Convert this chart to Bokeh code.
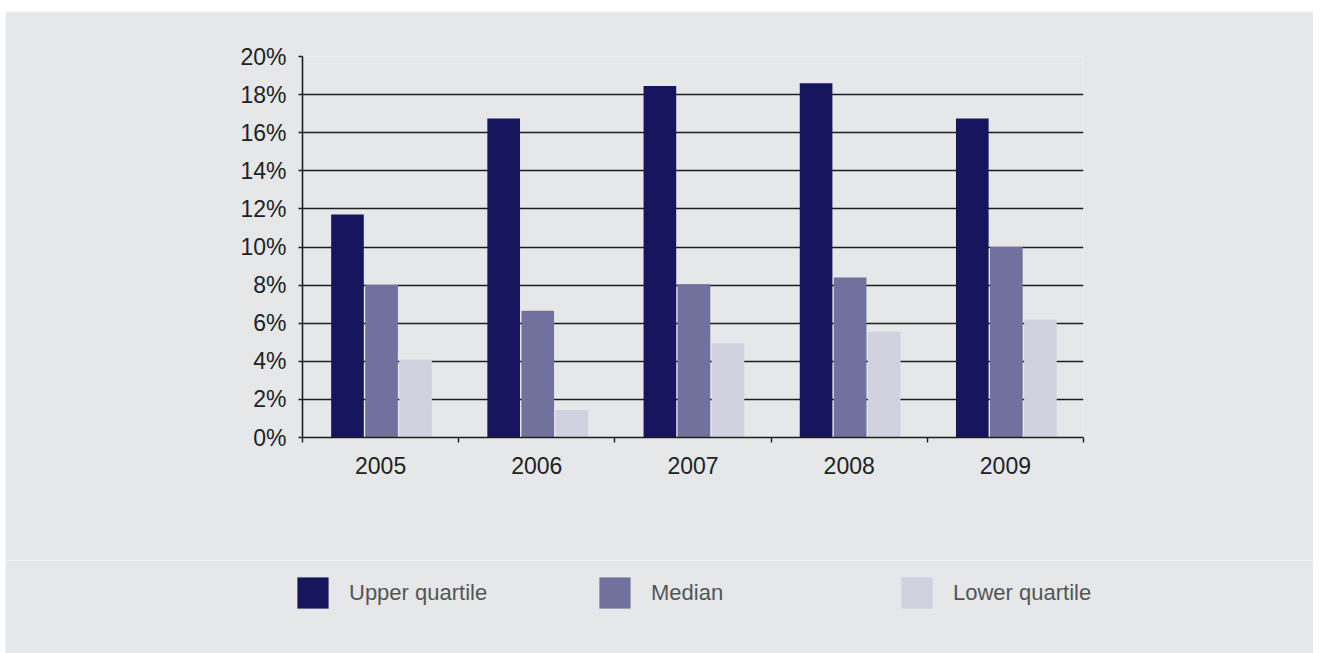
import numpy as np
from bokeh.plotting import figure
from bokeh.models import (ColumnDataSource, Range1d, LinearAxis, FixedTicker,
                          Legend, LegendItem, NumeralTickFormatter)
from bokeh.transform import dodge
from bokeh.embed import file_html
from bokeh.resources import INLINE

years = ["2005", "2006", "2007", "2008", "2009"]
upper_quartile = [11.7, 16.75, 18.45, 18.6, 16.75]
median = [8.0, 6.65, 8.05, 8.4, 10.0]
lower_quartile = [4.1, 1.45, 4.95, 5.55, 6.2]
series_names = ["Upper quartile", "Median", "Lower quartile"]
colors = ["#18155f", "#72709c", "#d2d1df"]
y_ticks = [0, 2, 4, 6, 8, 10, 12, 14, 16, 18, 20]

xc = np.arange(len(years)) + 0.5
src = ColumnDataSource(dict(x=xc, upper=upper_quartile, median=median, lower=lower_quartile))

BG = "#e6e7e9"
p = figure(width=1308, height=549, output_backend="svg", toolbar_location=None,
           x_range=Range1d(0, len(years)), y_range=Range1d(0, 20),
           x_axis_location=None, y_axis_location=None,
           min_border_left=297, min_border_right=230, min_border_top=45, min_border_bottom=123,
           background_fill_color=BG, border_fill_color=BG, outline_line_color=None,
           margin=(11, 0, 0, 5))

p.xgrid.grid_line_color = None
p.ygrid.ticker = FixedTicker(ticks=y_ticks)
p.ygrid.grid_line_color = "#1e1e1e"
p.ygrid.grid_line_width = 1.4

yaxis = LinearAxis(ticker=FixedTicker(ticks=y_ticks),
                   formatter=NumeralTickFormatter(format="0"))
yaxis.major_label_overrides = {t: f"{t}%" for t in y_ticks}
yaxis.axis_line_color = "#1e1e1e"
yaxis.axis_line_width = 1.6
yaxis.major_tick_line_color = "#1e1e1e"
yaxis.major_tick_line_width = 1.4
yaxis.major_tick_out = 4
yaxis.major_tick_in = 0
yaxis.minor_tick_line_color = None
yaxis.major_label_text_font = "Liberation Sans"
yaxis.major_label_text_font_size = "23px"
yaxis.major_label_text_color = "#222222"
yaxis.major_label_standoff = 12
p.add_layout(yaxis, "left")

xaxis = LinearAxis(ticker=FixedTicker(ticks=list(xc), minor_ticks=list(range(len(years) + 1))))
xaxis.major_label_overrides = {float(x): y for x, y in zip(xc, years)}
xaxis.axis_line_color = "#1e1e1e"
xaxis.axis_line_width = 1.6
xaxis.major_tick_line_color = None
xaxis.major_tick_out = 0
xaxis.major_tick_in = 0
xaxis.minor_tick_line_color = "#1e1e1e"
xaxis.minor_tick_line_width = 1.4
xaxis.minor_tick_out = 5
xaxis.minor_tick_in = 0
xaxis.major_label_text_font = "Liberation Sans"
xaxis.major_label_text_font_size = "23px"
xaxis.major_label_text_color = "#222222"
xaxis.major_label_standoff = 14
p.add_layout(xaxis, "below")

offsets = [-0.212, 0.006, 0.224]
fields = ["upper", "median", "lower"]
for f, off, c in zip(fields, offsets, colors):
    p.vbar(x=dodge("x", off), top=f, width=0.209, bottom=0, source=src,
           fill_color=c, line_color=None)

# legend strip below the chart (separate root, so its frame spans the full strip)
lf = figure(width=1308, height=93, output_backend="svg", toolbar_location=None,
            x_range=Range1d(100, 101), y_range=Range1d(100, 101),
            x_axis_location=None, y_axis_location=None,
            min_border_left=0, min_border_right=0, min_border_top=0, min_border_bottom=0,
            background_fill_color=BG, border_fill_color=BG, outline_line_color=None,
            margin=(0, 0, 0, 5))
lf.xgrid.visible = False
lf.ygrid.visible = False
items = []
for f, off, c, name in zip(fields, offsets, colors, series_names):
    r = lf.vbar(x=dodge("x", off), top=f, width=0.209, bottom=0, source=src,
                fill_color=c, line_color=None)
    items.append(LegendItem(label=name, renderers=[r]))

legend = Legend(items=items, orientation="horizontal", location=(288, 41),
                glyph_width=39, glyph_height=39, label_standoff=17, label_width=246,
                spacing=0, padding=0, margin=0, border_line_color=None,
                background_fill_alpha=0, label_text_font="Liberation Sans",
                label_text_font_size="22px", label_text_color="#555555")
lf.add_layout(legend, "center")

open("out.html", "w").write(file_html([p, lf], INLINE))
